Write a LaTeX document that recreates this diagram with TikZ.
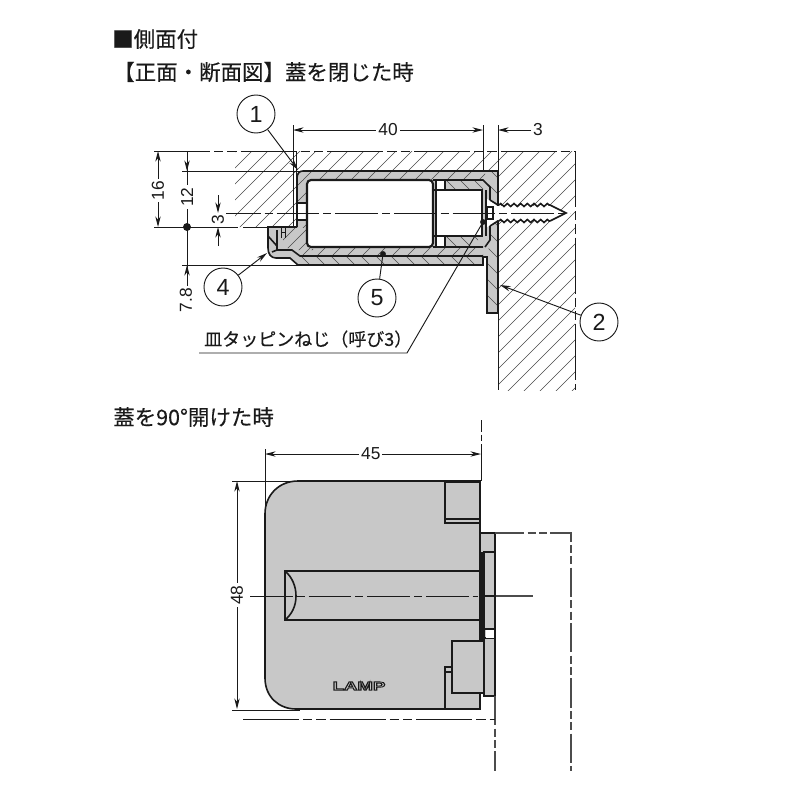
\documentclass[tikz,border=0pt]{standalone}
\usepackage{fontspec}
\setmainfont{Liberation Sans}
\newfontfamily\jpfont[FakeBold=0.25]{Noto Sans CJK JP}
\newfontfamily\lampfont{Liberation Sans Bold}
\usetikzlibrary{arrows.meta,decorations.pathmorphing}
\definecolor{partgray}{HTML}{C8C8C8}
\definecolor{inkc}{HTML}{1A1A1A}
\newcommand\hatchup[2][16]{\begin{scope}\clip #2;
 \foreach \k in {0,...,100}{\draw[hatchline] ({\k*#1+3},0) -- ++(-800,800);}
 \end{scope}}
\newcommand\hatchdown[2][16]{\begin{scope}\clip #2;
 \foreach \k in {-60,...,60}{\draw[hatchline] ({\k*#1},0) -- ++(800,800);}
 \end{scope}}
\tikzset{
 hatchline/.style={line width=.42pt,inkc!80},
 thick line/.style={line width=1.6pt,inkc},
 part line/.style={line width=1.2pt,inkc},
 thin line/.style={line width=.7pt,inkc},
 dim line/.style={line width=.7pt,inkc},
 dim arrows/.style={dim line,{Stealth[length=8pt,width=4pt]}-{Stealth[length=8pt,width=4pt]}},
 dim end/.style={dim line,-{Stealth[length=8pt,width=4pt]}},
 center line/.style={line width=.7pt,inkc,dash pattern=on 32pt off 3pt on 6pt off 3pt},
 break line/.style={line width=.7pt,inkc,dash pattern=on 42pt off 3pt on 7pt off 3pt on 7pt off 3pt},
 guide line/.style={line width=.7pt,inkc,dash pattern=on 9pt off 2pt on 5pt off 2pt on 30pt off 0pt},
 hidden line/.style={line width=1pt,black!70,dash pattern=on 22pt off 2.5pt on 6pt off 2.5pt on 6pt off 2.5pt},
 dim text/.style={font=\fontsize{13}{14}\selectfont,text=inkc,inner sep=1.5pt,fill=white},
 callout/.style={circle,draw=inkc,line width=.7pt,fill=white,minimum size=28.5pt,inner sep=0pt,font=\fontsize{17.5}{18}\selectfont,text=inkc},
 title/.style={anchor=west,font=\jpfont\fontsize{16.1}{17}\selectfont,text=inkc,inner sep=0pt},
 leader/.style={thin line,-{Stealth[length=8pt,width=4pt]}},
 part fill/.style={fill=partgray},
}
\begin{document}
\begin{tikzpicture}[x=.75pt,y=-.75pt]
\useasboundingbox (0,0) rectangle (800,800);
% titles
\node[title] (t1) at (112,39) {■側面付};
\node[title] (t2) at (113,72) {【正面・断面図】蓋を閉じた時};
\node[title] (t3) at (113,417) {蓋を90°開けた時};

% ---- wood hatching
\hatchup{(235,151) rectangle (498,171) (235,171) rectangle (296,227)}
\hatchup{(498,151) rectangle (575,390)}
\draw[break line] (154,151) -- (575,151);
\draw[thin line] (182,171) -- (300,171);
\draw[thin line] (154,227) -- (238,227) (243,227) -- (296,227);
\draw[thin line] (296,151) -- (296,227);
\draw[thin line] (182,265) -- (300,265);
\draw[thin line] (498,151) -- (498,345);
\draw[break line] (498,345) -- (498,390);
\draw[break line] (575,151) -- (575,390);

% ---- closed hinge: grey silhouette
\path[part fill] (485,171) -- (303,171) .. controls (299,171) and (297,174) .. (297,178) -- (297,227)
  -- (268,227) -- (268,248) .. controls (268,254) and (271,258) .. (276,258) -- (290,258) -- (298,265) -- (483,265) -- (483,257) -- (487,257) -- (487,313) -- (498,313) -- (498,171) -- cycle;
% upper shell + hatching
\hatchup[16]{(303,171) rectangle (485,180)}
\hatchup[16]{(297,227) rectangle (306,180)}
\hatchup[13]{(283,227) -- (306,227) -- (306,240) -- (314,250) -- (292,250) -- (283,246) -- cycle}
\hatchup[15]{(300,247) rectangle (483,255)}
\hatchdown[15]{(298,257) rectangle (483,265)}
\hatchdown[14]{(445,180) rectangle (483,190)}
\hatchdown[14]{(445,236) -- (483,236) -- (470,247) -- (445,247) -- cycle}
\hatchdown[16]{(485,171) -- (498,171) -- (498,313) -- (487,313) -- (487,265) -- (490,235) -- (490,190) -- cycle}
% cavity
\fill[white,rounded corners=3pt] (307,180) rectangle (433,247);
\fill[white] (436,190) rectangle (482,236) (436,180) rectangle (445,190) (436,236) rectangle (445,247) (297,203) rectangle (306,220);
\draw[thick line,rounded corners=3pt] (433,180) -- (307,180) -- (307,247) -- (433,247) -- cycle;
\draw[part line] (436,180) -- (436,247);
\draw[part line] (445,180) -- (445,190) -- (482,190) -- (482,236) -- (445,236) -- (445,247);
\draw[part line] (433,190) -- (445,190) (433,236) -- (445,236);
\draw[part line] (433,180) -- (483,180) -- (490,187) -- (490,200);
\draw[part line] (433,247) -- (483,247) (485,247) -- (490,240) -- (490,226);
% shell outlines
\draw[part line] (485,171) -- (303,171) .. controls (299,171) and (297,174) .. (297,178) -- (297,227);
\draw[part line] (297,203) -- (306,203) (297,220) -- (306,220);
\draw[part line] (297,227) -- (268,227) -- (268,248) .. controls (268,254) and (271,258) .. (276,258) -- (290,258) -- (298,265) -- (483,265) -- (483,257);
\draw[part line] (277,230) -- (277,250) -- (292,250) -- (300,256) -- (483,256);
\draw[part line] (268,236) -- (277,246) (277,250) -- (272,252);
\draw[thin line] (281,227) -- (281,238) (285,227) -- (285,238) (281,232) -- (285,232);
% mounting plate
\draw[part line] (485,171) -- (498,171) -- (498,313) -- (487,313) -- (487,265);
\draw[part line] (483,257) -- (487,257) -- (487,265);
\draw[part line] (483,171) -- (485,171);
% screw
\fill[white] (486,198) -- (497,206) -- (553,206) -- (566,213) -- (553,220) -- (497,220) -- (486,228) -- cycle;
\draw[part line,decorate,decoration={zigzag,segment length=5pt,amplitude=1.1pt}] (499,205) -- (550,205);
\draw[part line,decorate,decoration={zigzag,segment length=5pt,amplitude=1.1pt}] (499,221) -- (550,221);
\draw[part line] (550,205) -- (566,213) -- (550,221);
\draw[part line] (490,200) -- (498,205) (490,226) -- (498,221);
\draw[part line] (487,207) rectangle (493,219);
\draw[thick line] (486,190) -- (486,236);

% center line + dimensions (closed state)
\draw[center line] (218,213) -- (570,213);
\coordinate (top40a) at (293,130); \coordinate (top40b) at (483,130);
\draw[thin line] (293,125) -- (293,227) -- (297,227);
\draw[thin line] (483,125) -- (483,172);
\draw[thin line] (498,125) -- (498,151);
\draw[dim arrows] (top40a) -- node[dim text] (d40) {40} (top40b);
\coordinate (d3a) at (498,130); \coordinate (d3c) at (531,130);
\draw[dim end] (d3c) -- (d3a);
\node[dim text,fill=none] (d3) at (538,130) {3};
\coordinate (d16a) at (158,151); \coordinate (d16b) at (158,227);
\draw[dim arrows] (d16a) -- node[dim text,rotate=90,pos=.52] (d16) {16} (d16b);
\coordinate (d12a) at (187,171); \coordinate (d12b) at (187,265);
\draw[dim line] (187,151) -- (187,312);
\draw[dim end] (187,152) -- (d12a);
\draw[dim end] (187,280) -- (d12b);
\node[dim text,rotate=90] (d12) at (187,197) {12};
\node[dim text,rotate=90] (d78) at (186,300) {7.8};
\fill[inkc] (187,227) circle (3pt);
\draw[dim end] (218,195) -- (218,213);
\draw[dim end] (218,246) -- (218,227);
\node[dim text,rotate=90] (dsmall) at (218,220) {3};
% callouts
\node[callout] (c1) at (256,114) {1};
\node[callout] (c2) at (599,322) {2};
\node[callout] (c4) at (223,287) {4};
\node[callout] (c5) at (377,298) {5};
\coordinate (c1t) at (298,170);
\coordinate (c2t) at (500,285);
\coordinate (c4t) at (267,253);
\coordinate (c5t) at (383,254);
\draw[leader] (c1) -- (c1t);
\draw[leader] (c2) -- (c2t);
\draw[leader] (c4) -- (c4t);
\draw[thin line] (c5) -- (c5t);
\fill[inkc] (c5t) circle (2.2pt);
% screw label
\node[anchor=west,font=\jpfont\fontsize{13.5}{14}\selectfont,text=inkc,inner sep=0pt] (screw) at (204,339) {皿タッピンねじ（呼び3）};
\coordinate (ulA) at (199,353); \coordinate (ulB) at (407,353); \coordinate (ulC) at (483,222);
\draw[thin line] (ulA) -- (ulB) -- (ulC);
\fill[inkc] (ulC) circle (2.2pt);

% ---- open hinge
\draw[part line,part fill] (480,481) -- (298,481) .. controls (279,481) and (265,495) .. (265,514) -- (265,678) .. controls (265,697) and (279,709) .. (296,709) -- (480,709) -- cycle;
\draw[part line] (480,482) -- (445,482) -- (445,523) -- (480,523);
\draw[part line] (445,519) -- (480,519);
\draw[part line] (480,571) -- (285,571) -- (285,620) -- (480,620);
\draw[part line] (285,571) .. controls (292,577) and (296,586) .. (296,596) .. controls (296,606) and (292,614) .. (285,620);
% plate
\draw[part line,part fill] (480,533) -- (495,533) -- (495,696) -- (484,696) -- (484,693) -- (480,693) -- cycle;
\fill[inkc] (481,552) rectangle (485,640);
\draw[part line] (483,552) -- (495,552) (485,596) -- (495,596);
\draw[part line] (485,629) -- (495,629) (485,638) -- (495,638);
\fill[white] (486,630) rectangle (494,637.5);
\draw[part line,part fill] (452,641) rectangle (484,693);
\draw[part line] (445,709) -- (445,667) -- (452,667) (445,672) -- (452,672);
\draw[part line] (480,693) -- (480,709);
\draw[center line] (250,596) -- (478,596);
\draw[line width=1pt,black!70] (496,596) -- (533,596);
\node[text=inkc] (lamp) at (359,686) {\special{pdf:literal q 1 Tr 0.6 w}\lampfont\fontsize{9}{10}\selectfont\scalebox{1.55}[1]{LAMP}\special{pdf:literal Q}};
% guides
\draw[guide line] (481,420) -- (481,481);
\draw[hidden line] (495,533) -- (571,533) -- (571,771);
\draw[hidden line] (495,696) -- (495,771);
\draw[break line] (243,719) -- (495,719);
% dims
\draw[thin line] (265,449) -- (265,515);
\coordinate (d45a) at (265,454); \coordinate (d45b) at (481,454);
\draw[dim arrows] (d45a) -- node[dim text,pos=.49] (d45) {45} (d45b);
\draw[thin line] (232,481) -- (300,481) (232,710) -- (300,710);
\coordinate (d48a) at (237,481); \coordinate (d48b) at (237,709);
\draw[dim arrows] (d48a) -- node[dim text,rotate=90] (d48) {48} (d48b);
\end{tikzpicture}
\end{document}
